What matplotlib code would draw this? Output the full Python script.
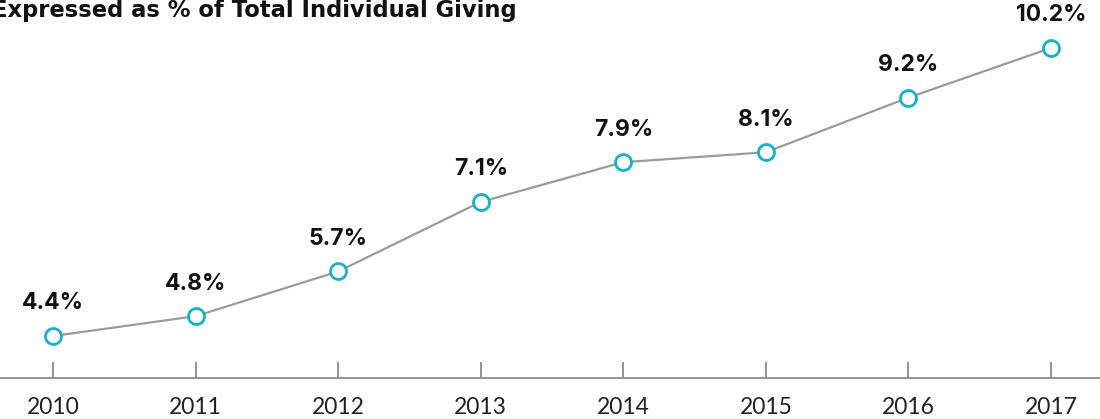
import matplotlib
matplotlib.use("Agg")
import matplotlib.pyplot as plt

# data
years = [2010, 2011, 2012, 2013, 2014, 2015, 2016, 2017]
share = [4.4, 4.8, 5.7, 7.1, 7.9, 8.1, 9.2, 10.2]
labels = ["4.4%", "4.8%", "5.7%", "7.1%", "7.9%", "8.1%", "9.2%", "10.2%"]
title = "Expressed as % of Total Individual Giving"

line_grey = "#9b9b9b"
marker_teal = "#16b1c8"
axis_grey = "#8a8a8a"

plt.rcParams['font.family'] = ['Inter', 'DejaVu Sans']

fig = plt.figure(figsize=(11, 4.19), dpi=100)
ax = fig.add_axes([0, 41 / 419, 1, 378 / 419])

ax.plot(years, share, color=line_grey, lw=1.6, zorder=2)
ax.plot(years, share, ls='none', marker='o', ms=11.5, mfc='white',
        mec=marker_teal, mew=2.0, zorder=3)

for x, y, txt in zip(years, share, labels):
    ax.annotate(txt, (x, y), xytext=(0, 23.5), textcoords='offset points',
                ha='center', va='center', fontsize=16.5, fontweight='bold',
                color='#111111')

ax.set_xlim(2009.628, 2017.344)
ax.set_ylim(3.555, 11.166)

for s in ['top', 'right', 'left']:
    ax.spines[s].set_visible(False)
ax.spines['bottom'].set_color(axis_grey)
ax.spines['bottom'].set_linewidth(1.3)

ax.set_yticks([])
ax.set_xticks(years)
ax.set_xticklabels([str(y) for y in years], family=['Lato', 'DejaVu Sans'])
ax.tick_params(axis='x', direction='in', length=11.5, width=1.3,
               color=axis_grey, pad=14, labelsize=16.5, labelcolor='#222222')

# title is cut off at the left edge in the reference
fig.text(517 / 1100, 1 - 10 / 419, title, ha='right', va='center',
         fontsize=16.3, fontweight='bold', color='#111111',
         family=['DejaVu Sans'])

fig.savefig("out.png", dpi=100)
